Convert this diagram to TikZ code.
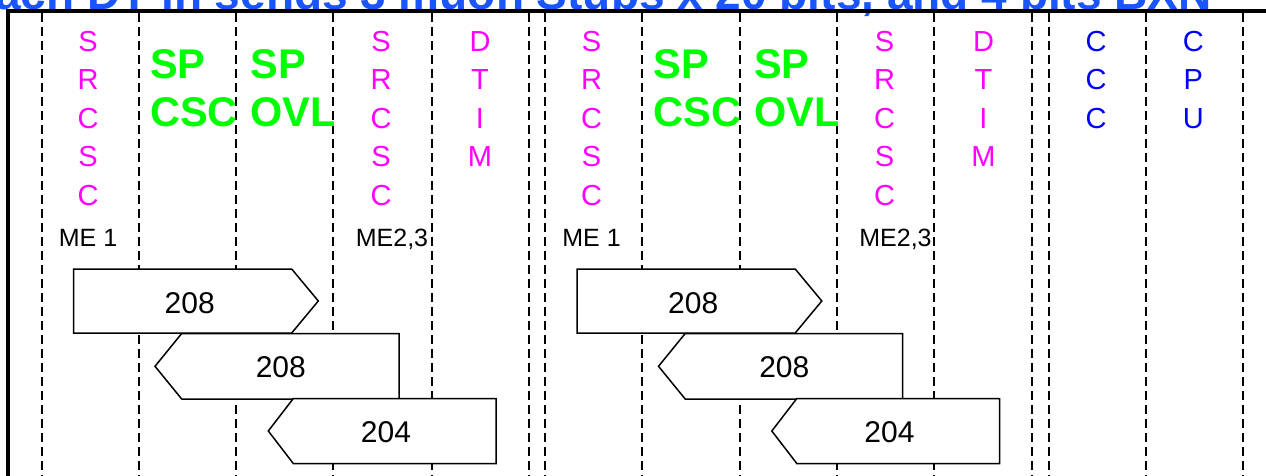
\documentclass[tikz,border=0pt]{standalone}
\usepackage{fontspec}
\setmainfont{Liberation Sans}
\definecolor{magc}{RGB}{255,0,255}
\definecolor{grnc}{RGB}{0,255,0}
\definecolor{bluc}{RGB}{0,0,255}
\definecolor{titc}{RGB}{25,85,250}
\begin{document}
\begin{tikzpicture}[x=1pt,y=-1pt,
  guide/.style={line width=2.2pt,dash pattern=on 9pt off 5pt},
  letter/.style={inner sep=0pt,anchor=base,font=\fontsize{29}{29}\selectfont},
  mag/.style={letter,text=magc},
  blu/.style={letter,text=bluc},
  sp/.style={inner sep=0pt,anchor=base west,text=grnc,font=\bfseries\fontsize{41.5}{41.5}\selectfont},
  melabel/.style={inner sep=0pt,anchor=base,font=\fontsize{25}{25}\selectfont},
  arrowbox/.style={draw=black,fill=white,line width=1.5pt,line join=miter},
  num/.style={inner sep=0pt,anchor=base,font=\fontsize{30}{30}\selectfont},
  title/.style={inner sep=0pt,anchor=base east,text=titc,font=\bfseries\fontsize{46}{46}\selectfont}]
\useasboundingbox (0,0) rectangle (1266,476);
\clip (0,0) rectangle (1266,476);
\fill[white] (0,0) rectangle (1266,476);
% title (clipped at the top edge, as in the reference)
\node[title] (ttl) at (1212,9.5) {Each DT in sends 3 muon Stubs x 20 bits, and 4 bits BXN};
% dashed column guides
\foreach \gx [count=\gi] in {41.7,138.7,236.3,333.3,431.7,529,545,642,740,837,934.3,1032.3,1048.7,1145.7,1243.3}{
  \coordinate (gt\gi) at (\gx,13);
  \coordinate (gb\gi) at (\gx,476);
  \draw[guide] (gt\gi) -- (gb\gi);
}
% frame
\coordinate (fbl) at (8,476);
\coordinate (ftl) at (8,11);
\coordinate (ftr) at (1266,11);
\draw[line width=4.5pt] (fbl) -- (ftl);
\draw[line width=3.5pt] (5.75,11) -- (ftr);
% two identical groups
\foreach \off/\g in {0/a,503.5/b}{
  \begin{scope}[xshift=\off pt]
    % SRCSC ME1
    \foreach \ch [count=\i] in {S,R,C,S,C}
      \node[mag] (\g srA\i) at (88,{51.1+(\i-1)*38.6}) {\ch};
    \node[melabel] (\g meA) at (88,246) {ME 1};
    % SP CSC
    \node[sp] (\g spA) at (150,78.3) {SP};
    \node[sp] (\g cscA) at (150,126.7) {CSC};
    % SP OVL
    \node[sp] (\g spB) at (250.5,78.3) {SP};
    \node[sp] (\g ovl) at (250.5,126.7) {OVL};
    % SRCSC ME2,3
    \foreach \ch [count=\i] in {S,R,C,S,C}
      \node[mag] (\g srB\i) at (381,{51.1+(\i-1)*38.6}) {\ch};
    \node[melabel] (\g meB) at (392,246) {ME2,3};
    % DTIM
    \foreach \ch [count=\i] in {D,T,I,M}
      \node[mag] (\g dt\i) at (480,{51.1+(\i-1)*38.6}) {\ch};
    % arrow boxes
    \draw[arrowbox] (73.7,269) -- (291.7,269) -- (318.3,301) -- (291.7,333) -- (73.7,333) -- cycle;
    \node[num] (\g nA) at (189.7,313.4) {208};
    \draw[arrowbox] (155,366.3) -- (181.7,333.5) -- (399,333.5) -- (399,399) -- (181.7,399) -- cycle;
    \node[num] (\g nB) at (280.8,377.4) {208};
    \draw[arrowbox] (268.3,431) -- (293.3,398.5) -- (496,398.5) -- (496,463.5) -- (293.3,463.5) -- cycle;
    \node[num] (\g nC) at (386,442.4) {204};
  \end{scope}
}
% CCC and CPU
\foreach \ch [count=\i] in {C,C,C}
  \node[blu] (ccc\i) at (1096,{51.1+(\i-1)*38.6}) {\ch};
\foreach \ch [count=\i] in {C,P,U}
  \node[blu] (cpu\i) at (1193.3,{51.1+(\i-1)*38.6}) {\ch};
\end{tikzpicture}
\end{document}
